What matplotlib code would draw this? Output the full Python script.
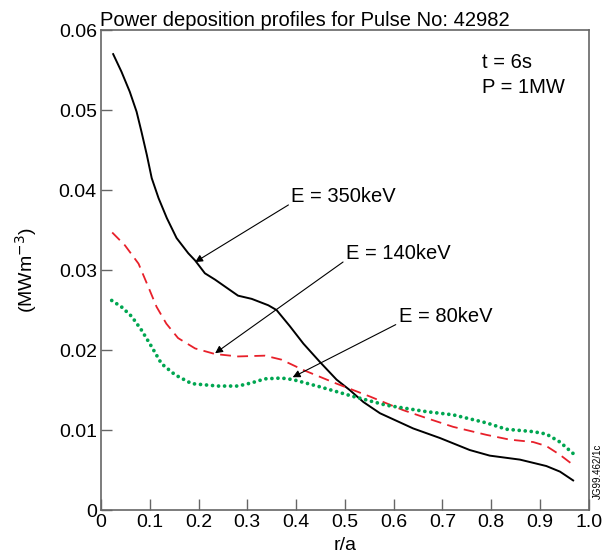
import numpy as np
import matplotlib
matplotlib.use("Agg")
import matplotlib.pyplot as plt

plt.rcParams['font.family'] = ['Liberation Sans', 'DejaVu Sans']

# E = 350keV (solid black)
r_350 = [0.025, 0.042, 0.059, 0.073, 0.083, 0.094, 0.104, 0.118, 0.135, 0.155,
         0.179, 0.193, 0.213, 0.234, 0.281, 0.309, 0.343, 0.360, 0.387, 0.415,
         0.449, 0.483, 0.510, 0.538, 0.572, 0.640, 0.695, 0.756, 0.797, 0.859,
         0.913, 0.941, 0.968]
p_350 = [0.0570, 0.0548, 0.0523, 0.0498, 0.0473, 0.0444, 0.0415, 0.0390, 0.0365, 0.0340,
         0.0321, 0.0312, 0.0296, 0.0288, 0.0268, 0.0264, 0.0256, 0.0250, 0.0230, 0.0208,
         0.0185, 0.0163, 0.0150, 0.0135, 0.0121, 0.0102, 0.0090, 0.0075, 0.0068, 0.0063,
         0.0055, 0.0048, 0.0037]

# E = 140keV (red dashed)
r_140 = [0.023, 0.049, 0.077, 0.097, 0.114, 0.134, 0.158, 0.193, 0.234, 0.281,
         0.336, 0.370, 0.415, 0.483, 0.551, 0.619, 0.667, 0.722, 0.790, 0.838,
         0.886, 0.913, 0.941, 0.971]
p_140 = [0.0347, 0.0331, 0.0308, 0.0279, 0.0254, 0.0233, 0.0215, 0.0202, 0.0195, 0.0192,
         0.0193, 0.0188, 0.0175, 0.0158, 0.0142, 0.0125, 0.0115, 0.0104, 0.0094, 0.0088,
         0.0085, 0.0080, 0.0069, 0.0055]

# E = 80keV (green dotted)
r_80 = [0.022, 0.042, 0.063, 0.083, 0.104, 0.124, 0.152, 0.186, 0.240, 0.281,
        0.309, 0.336, 0.370, 0.394, 0.449, 0.517, 0.585, 0.667, 0.722, 0.790,
        0.831, 0.886, 0.913, 0.941, 0.973]
p_80 = [0.0262, 0.0254, 0.0242, 0.0225, 0.0204, 0.0183, 0.0169, 0.0158, 0.0155, 0.0155,
        0.0159, 0.0164, 0.0165, 0.0163, 0.0154, 0.0142, 0.0131, 0.0123, 0.0119, 0.0109,
        0.0101, 0.0098, 0.0095, 0.0085, 0.0068]

# annotation labels: text, arrow tip (data), text anchor (data)
labels = ["E = 350keV", "E = 140keV", "E = 80keV"]
tips = [(0.193, 0.0310), (0.234, 0.0196), (0.393, 0.0166)]
anchors = [(0.390, 0.0385), (0.502, 0.0314), (0.610, 0.0235)]

x_ticks = np.arange(0, 1.01, 0.1)
y_ticks = [0, 0.01, 0.02, 0.03, 0.04, 0.05, 0.06]

fig = plt.figure(figsize=(6.12, 5.58), dpi=100)
ax = fig.add_axes([0.165, 0.086, 0.797, 0.860])

ax.plot(r_350, p_350, color='black', lw=1.4)
ax.plot(r_140, p_140, color='#e8202a', lw=1.3, linestyle=(0, (6, 3.5)))
ax.plot(r_80, p_80, color='#00a651', lw=2.7, linestyle=(0, (0.01, 1.6)),
        dash_capstyle='round')

for txt, tip, anc in zip(labels, tips, anchors):
    ax.annotate(txt, xy=tip, xytext=anc, fontsize=14.5, ha='left', va='baseline',
                arrowprops=dict(arrowstyle='-|>', color='black', lw=0.8,
                                mutation_scale=11, shrinkA=0, shrinkB=0,
                                relpos=(0, 0.15)))

ax.text(0.782, 0.0553, "t = 6s", fontsize=14.5)
ax.text(0.782, 0.0522, "P = 1MW", fontsize=14.5)

ax.set_xlim(0, 1.0)
ax.set_ylim(0, 0.06)
ax.set_xticks(x_ticks)
ax.set_xticklabels(["0"] + [f"{v:.1f}" for v in x_ticks[1:]])
ax.set_yticks(y_ticks)
ax.set_yticklabels(["0", "0.01", "0.02", "0.03", "0.04", "0.05", "0.06"])
ax.tick_params(direction='in', length=8, width=1, color='#666666', labelsize=14, pad=3)
for s in ax.spines.values():
    s.set_color('#666666')
    s.set_linewidth(1.2)

ax.set_xlabel("r/a", fontsize=14, labelpad=4)
ax.set_ylabel("(MWm$^{-3}$)", fontsize=14, labelpad=14)
ax.set_title("Power deposition profiles for Pulse No: 42982", fontsize=14.5,
             loc='left', pad=2, x=-0.003)
fig.text(0.977, 0.155, "JG99.462/1c", fontsize=7, rotation=90, ha='center', va='center')

fig.savefig("out.png", dpi=100)
